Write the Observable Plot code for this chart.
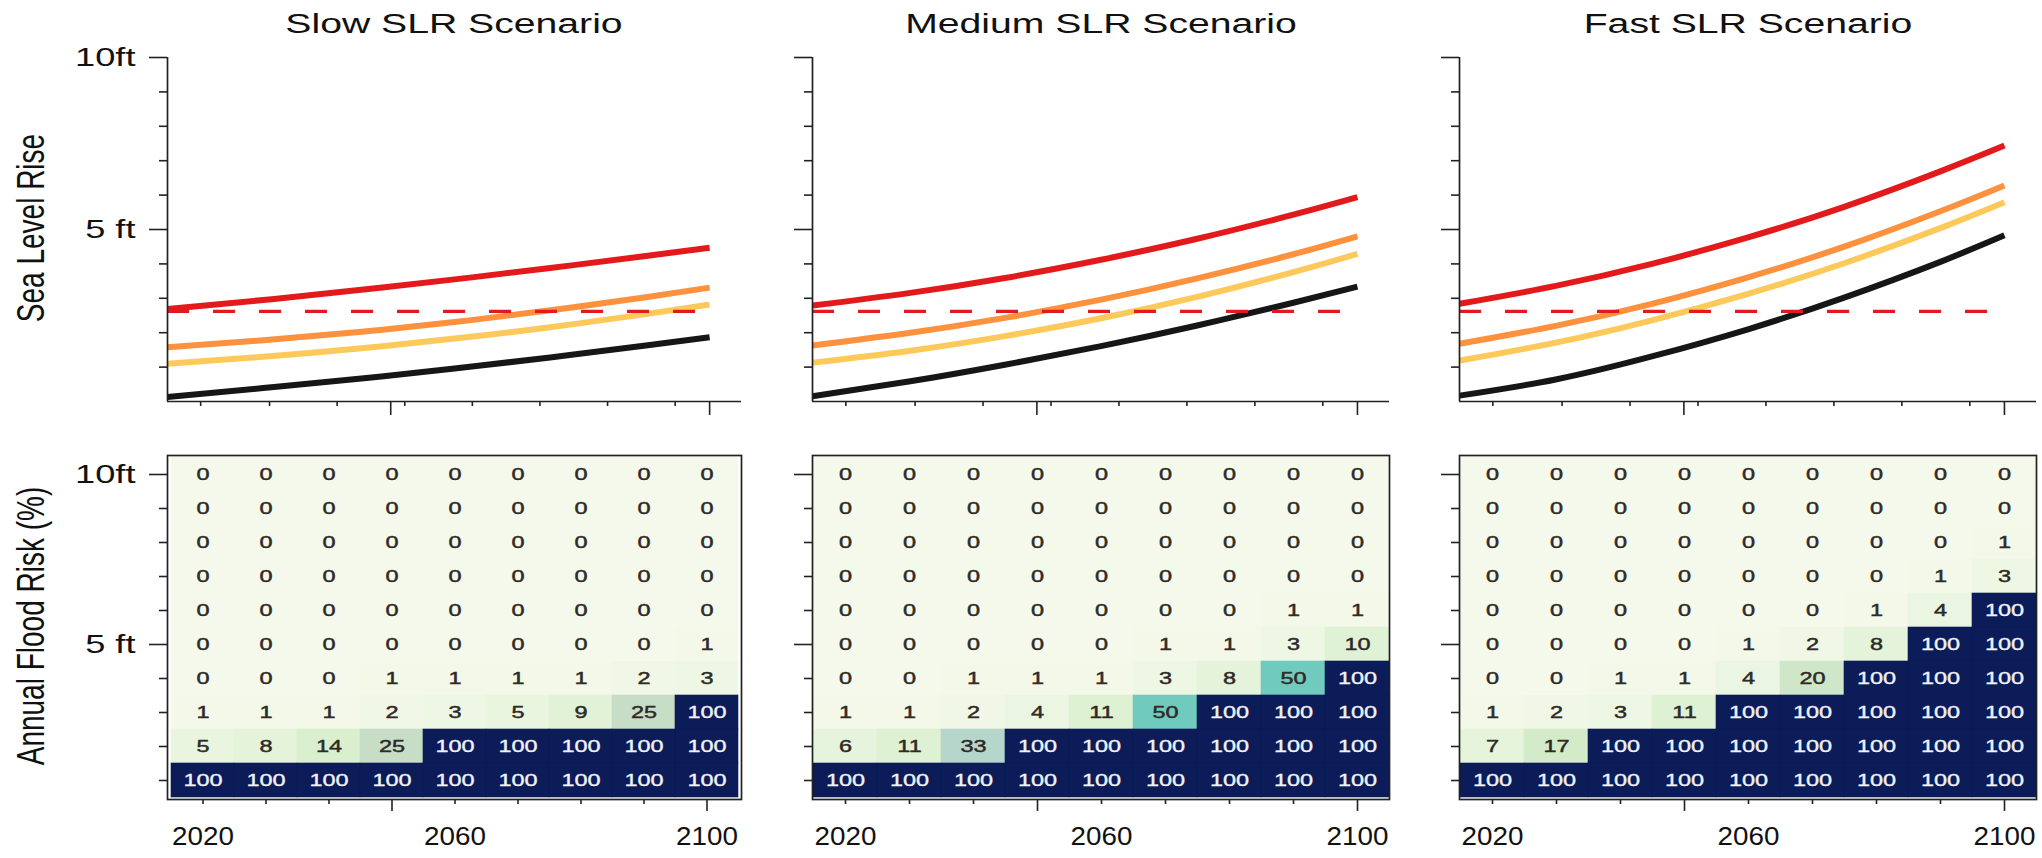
<!DOCTYPE html>
<html>
<head>
<meta charset="utf-8">
<script src="https://cdn.jsdelivr.net/npm/d3@7"></script>
<script src="https://cdn.jsdelivr.net/npm/@observablehq/plot@0.6"></script>
<style>
html, body { margin: 0; padding: 0; background: #fff; }
#root { position: relative; width: 2042px; height: 858px; overflow: hidden;
  font-family: "Liberation Sans", Arial, Helvetica, sans-serif; color: #111; }
.panel { position: absolute; }
.title { position: absolute; top: 11px; font-size: 27px; line-height: 27px; white-space: nowrap;
  transform: translateX(-50%) scaleX(1.45); }
.ytitle { position: absolute; font-size: 28px; line-height: 28px; white-space: nowrap;
  transform: translate(-50%, -50%) rotate(-90deg) scaleY(1.4); }
</style>
</head>
<body>
<div id="root"></div>
<script>
// ---------------- data ----------------
const scenarios = ["Slow SLR Scenario", "Medium SLR Scenario", "Fast SLR Scenario"];
const seriesNames = ["level A", "level B", "level C", "level D"];
const seriesColors = ["#161616", "#fec95b", "#fd913e", "#e31a1c"];

const curveYears = [2015, 2030, 2045, 2060, 2075, 2090, 2100];
// sea level rise (ft)
const slowBlack  = [0.13, 0.39, 0.66, 0.96, 1.28, 1.63, 1.87];
const slowYellow = [1.10, 1.30, 1.54, 1.83, 2.16, 2.54, 2.82];
const slowOrange = [1.58, 1.78, 2.02, 2.31, 2.65, 3.03, 3.31];
const slowRed    = [2.69, 2.95, 3.24, 3.55, 3.88, 4.23, 4.47];

const medBlack  = [0.15, 0.58, 1.07, 1.61, 2.21, 2.87, 3.34];
const medYellow = [1.13, 1.47, 1.90, 2.42, 3.04, 3.76, 4.29];
const medOrange = [1.63, 1.99, 2.43, 2.96, 3.58, 4.28, 4.80];
const medRed    = [2.79, 3.15, 3.59, 4.12, 4.73, 5.43, 5.94];

const fastBlack  = [0.17, 0.64, 1.31, 2.10, 3.02, 4.06, 4.83];
const fastYellow = [1.19, 1.71, 2.36, 3.13, 4.02, 5.04, 5.79];
const fastOrange = [1.68, 2.20, 2.84, 3.61, 4.50, 5.53, 6.28];
const fastRed    = [2.84, 3.36, 4.00, 4.77, 5.66, 6.69, 7.44];

const threshold = [2.62];

// heat map: rows = flood level (ft), columns = year
const heatYears = [2020, 2030, 2040, 2050, 2060, 2070, 2080, 2090, 2100];
const heatLevels = [10, 9, 8, 7, 6, 5, 4, 3, 2, 1];

const slowRisk = [
  [0, 0, 0, 0, 0, 0, 0, 0, 0],
  [0, 0, 0, 0, 0, 0, 0, 0, 0],
  [0, 0, 0, 0, 0, 0, 0, 0, 0],
  [0, 0, 0, 0, 0, 0, 0, 0, 0],
  [0, 0, 0, 0, 0, 0, 0, 0, 0],
  [0, 0, 0, 0, 0, 0, 0, 0, 1],
  [0, 0, 0, 1, 1, 1, 1, 2, 3],
  [1, 1, 1, 2, 3, 5, 9, 25, 100],
  [5, 8, 14, 25, 100, 100, 100, 100, 100],
  [100, 100, 100, 100, 100, 100, 100, 100, 100]
];
const medRisk = [
  [0, 0, 0, 0, 0, 0, 0, 0, 0],
  [0, 0, 0, 0, 0, 0, 0, 0, 0],
  [0, 0, 0, 0, 0, 0, 0, 0, 0],
  [0, 0, 0, 0, 0, 0, 0, 0, 0],
  [0, 0, 0, 0, 0, 0, 0, 1, 1],
  [0, 0, 0, 0, 0, 1, 1, 3, 10],
  [0, 0, 1, 1, 1, 3, 8, 50, 100],
  [1, 1, 2, 4, 11, 50, 100, 100, 100],
  [6, 11, 33, 100, 100, 100, 100, 100, 100],
  [100, 100, 100, 100, 100, 100, 100, 100, 100]
];
const fastRisk = [
  [0, 0, 0, 0, 0, 0, 0, 0, 0],
  [0, 0, 0, 0, 0, 0, 0, 0, 0],
  [0, 0, 0, 0, 0, 0, 0, 0, 1],
  [0, 0, 0, 0, 0, 0, 0, 1, 3],
  [0, 0, 0, 0, 0, 0, 1, 4, 100],
  [0, 0, 0, 0, 1, 2, 8, 100, 100],
  [0, 0, 1, 1, 4, 20, 100, 100, 100],
  [1, 2, 3, 11, 100, 100, 100, 100, 100],
  [7, 17, 100, 100, 100, 100, 100, 100, 100],
  [100, 100, 100, 100, 100, 100, 100, 100, 100]
];

const riskStops  = [0, 5, 15, 25, 35, 50, 100];
const riskColors = ["#f5f9ec", "#e9f5df", "#d7eecb", "#c8ddc5", "#b3d4cc", "#70cbbe", "#0b1c58"];

// ticks
const topXDomain = [2015, 2105];
const topMinorYearTicks = [2020.2, 2031, 2041.6, 2052.2, 2062.8, 2073.4, 2084, 2094.6];
const majorYearTicks = [2050, 2100];
const heatMinorYearTicks = [2020, 2030, 2040, 2060, 2070, 2080, 2090];
const yearLabels = [2020, 2060, 2100];
const ftDomain = [0, 10];
const ftMinorTicks = [9, 8, 7, 6, 4, 3, 2, 1];
const ftMajorTicks = [10, 5];
const ftTickLabels = ["10ft", "5 ft"];

// ---------------- layout ----------------
const panelLeft = [167, 812, 1459];
const panelWidth = [574, 577, 577];
const rightPad = [8, 8, 6];

const seriesByScenario = [
  [slowBlack, slowYellow, slowOrange, slowRed],
  [medBlack, medYellow, medOrange, medRed],
  [fastBlack, fastYellow, fastOrange, fastRed]
];
const riskByScenario = [slowRisk, medRisk, fastRisk];

const root = document.getElementById("root");
const FONT = '"Liberation Sans", Arial, Helvetica, sans-serif';
const AX = "#222";

function stretch(svg, selector, s) {
  svg.querySelectorAll(selector).forEach(t => {
    let tr = t.getAttribute("transform") || "";
    const x = t.getAttribute("x");
    if (x && !/em$/.test(x)) { tr += ` translate(${x},0)`; t.removeAttribute("x"); }
    t.setAttribute("transform", tr + ` scale(${s},1)`);
  });
}

function place(node, left, top) {
  node.classList.add("panel");
  node.style.left = left + "px";
  node.style.top = top + "px";
  root.appendChild(node);
}

function topChart(i) {
  const showLabels = i === 0;
  const ml = showLabels ? 167 : 60;
  const lines = [];
  seriesNames.forEach((name, s) => {
    curveYears.forEach((yr, k) => lines.push({series: name, year: yr, ft: seriesByScenario[i][s][k]}));
  });
  const svg = Plot.plot({
    width: ml + panelWidth[i] + rightPad[i],
    height: 430,
    marginLeft: ml, marginRight: rightPad[i], marginTop: 57, marginBottom: 29,
    style: {fontFamily: FONT, background: "transparent", overflow: "visible", color: "#111"},
    x: {domain: topXDomain, axis: null},
    y: {domain: ftDomain, axis: null},
    color: {type: "ordinal", domain: seriesNames, range: seriesColors},
    marks: [
      Plot.line(lines, {x: "year", y: "ft", z: "series", stroke: "series", strokeWidth: 6, curve: "natural", strokeLinecap: "butt"}),
      Plot.ruleY(threshold, {x1: curveYears[0], x2: curveYears[curveYears.length - 1], stroke: "#e31a1c", strokeWidth: 3.2, strokeDasharray: "22,24"}),
      Plot.ruleX([topXDomain[0]], {stroke: AX, strokeWidth: 1.7}),
      Plot.ruleY([ftDomain[0]], {stroke: AX, strokeWidth: 1.7}),
      Plot.axisY({ticks: ftMinorTicks, tickSize: 8, tickFormat: () => "", stroke: AX, strokeWidth: 1.6, label: null}),
      Plot.axisY({ticks: ftMajorTicks, tickSize: 18, tickPadding: 14, fontSize: 25, fill: "#111", stroke: AX, strokeWidth: 1.6,
        tickFormat: d => showLabels ? ftTickLabels[ftMajorTicks.indexOf(d)] : "", label: null}),
      Plot.axisX({ticks: topMinorYearTicks, tickSize: 5, tickFormat: () => "", stroke: AX, strokeWidth: 1.6, label: null}),
      Plot.axisX({ticks: majorYearTicks, tickSize: 14, tickFormat: () => "", stroke: AX, strokeWidth: 1.6, label: null})
    ]
  });
  stretch(svg, 'g[aria-label="y-axis tick label"] text', 1.45);
  place(svg, panelLeft[i] - ml, 0);
}

function heatChart(i) {
  const showLabels = i === 0;
  const ml = showLabels ? 167 : 60;
  const cells = [];
  heatLevels.forEach((lv, r) => heatYears.forEach((yr, c) => cells.push({year: yr, level: lv, risk: riskByScenario[i][r][c]})));
  const svg = Plot.plot({
    width: ml + panelWidth[i] + rightPad[i],
    height: 428,
    marginLeft: ml, marginRight: rightPad[i], marginTop: 25, marginBottom: 59,
    style: {fontFamily: FONT, background: "transparent", overflow: "visible", color: "#111"},
    x: {type: "band", domain: heatYears, padding: 0, axis: null},
    y: {type: "band", domain: heatLevels, padding: 0, axis: null},
    color: {type: "linear", domain: riskStops, range: riskColors},
    marks: [
      Plot.cell(cells, {x: "year", y: "level", fill: "risk", stroke: "risk", strokeWidth: 0.6, inset: 0}),
      Plot.text(cells.filter(d => d.risk < 100), {x: "year", y: "level", text: d => String(d.risk),
        fill: "#2e2a26", stroke: "#2e2a26", strokeWidth: 0.45, fontSize: 17}),
      Plot.text(cells.filter(d => d.risk >= 100), {x: "year", y: "level", text: d => String(d.risk),
        fill: "#f1f1f6", stroke: "#f1f1f6", strokeWidth: 0.35, fontSize: 17}),
      Plot.frame({stroke: AX, strokeWidth: 1.7}),
      Plot.axisY({ticks: ftMinorTicks, tickSize: 8, tickFormat: () => "", stroke: AX, strokeWidth: 1.6, label: null}),
      Plot.axisY({ticks: ftMajorTicks, tickSize: 18, tickPadding: 14, fontSize: 25, fill: "#111", stroke: AX, strokeWidth: 1.6,
        tickFormat: d => showLabels ? ftTickLabels[ftMajorTicks.indexOf(d)] : "", label: null}),
      Plot.axisX({ticks: heatMinorYearTicks, tickSize: 5, tickFormat: () => "", stroke: AX, strokeWidth: 1.6, label: null}),
      Plot.axisX({ticks: majorYearTicks, tickSize: 12, tickFormat: () => "", stroke: AX, strokeWidth: 1.6, label: null}),
      Plot.axisX({ticks: yearLabels, tickSize: 0, tickPadding: 27, fontSize: 26, fill: "#111", tickFormat: d => String(d), label: null})
    ]
  });
  stretch(svg, 'g[aria-label="text"] text', 1.38);
  stretch(svg, 'g[aria-label="y-axis tick label"] text', 1.45);
  stretch(svg, 'g[aria-label="x-axis tick label"] text', 1.07);
  place(svg, panelLeft[i] - ml, 430);
}

for (let i = 0; i < 3; i++) {
  topChart(i);
  heatChart(i);
  const t = document.createElement("div");
  t.className = "title";
  t.textContent = scenarios[i];
  t.style.left = (panelLeft[i] + panelWidth[i] / 2) + "px";
  root.appendChild(t);
}

const yTitles = [["Sea Level Rise", 228], ["Annual Flood Risk (%)", 626]];
yTitles.forEach(([txt, cy]) => {
  const d = document.createElement("div");
  d.className = "ytitle";
  d.textContent = txt;
  d.style.left = "31px";
  d.style.top = cy + "px";
  root.appendChild(d);
});
</script>
</body>
</html>
